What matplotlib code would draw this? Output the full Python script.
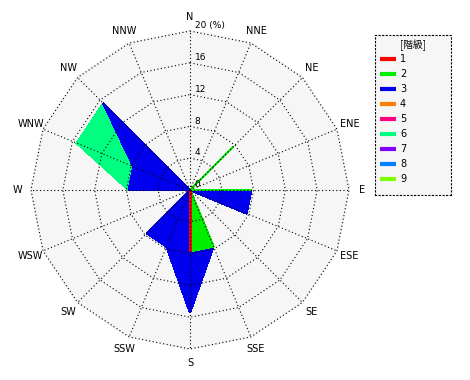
import matplotlib
matplotlib.use("Agg")
import matplotlib.pyplot as plt
import numpy as np

DIRECTIONS = ["N", "NNE", "NE", "ENE", "E", "ESE", "SE", "SSE",
              "S", "SSW", "SW", "WSW", "W", "WNW", "NW", "NNW"]

# frequency (%) per direction for each class
class_1 = [0, 0, 0, 0, 0, 0, 0, 0, 7.7, 0, 0, 0, 0, 0, 0, 0]
class_2 = [0, 0, 7.7, 0, 7.7, 0, 0, 7.7, 0, 0, 0, 0, 0, 0, 0, 0]
class_3 = [0, 0, 0, 0, 0, 7.7, 0, 0, 7.7, 7.7, 7.7, 0, 7.7, 7.7, 15.4, 0]
class_4 = [0] * 16
class_5 = [0] * 16
class_6 = [0, 0, 0, 0, 0, 0, 0, 0, 0, 0, 0, 0, 0, 7.7, 0, 0]
class_7 = [0] * 16
class_8 = [0] * 16
class_9 = [0] * 16

CLASS_LABELS = ["1", "2", "3", "4", "5", "6", "7", "8", "9"]
CLASS_COLORS = ["#ff0000", "#00ee00", "#0000ee", "#ff8000", "#ff0080",
                "#00ff80", "#8000ff", "#0080ff", "#80ff00"]
RING_VALUES = [4, 8, 12, 16, 20]
R_MAX = 20

DOT = (0, (1, 2.2))
BG = "#f6f6f6"


def to_xy(values):
    theta = np.deg2rad(np.arange(16) * 22.5)
    r = np.asarray(values, dtype=float)
    return r * np.sin(theta), r * np.cos(theta)


def main():
    plt.rcParams["font.family"] = ["DejaVu Sans"]
    fig = plt.figure(figsize=(4.7, 3.8), dpi=100)
    ax = fig.add_axes([0, 0, 380 / 470, 1])
    lim = 190 / 159 * R_MAX
    ax.set_xlim(-lim, lim)
    ax.set_ylim(-lim, lim)
    ax.set_aspect("equal")
    ax.axis("off")

    # background polygon
    bx, by = to_xy([R_MAX] * 16)
    ax.fill(bx, by, color=BG, zorder=0, antialiased=False)

    # cumulative polygons, largest first
    classes = [class_1, class_2, class_3, class_4, class_5,
               class_6, class_7, class_8, class_9]
    cum = np.cumsum(np.array(classes, dtype=float), axis=0)
    for k in range(len(classes) - 1, -1, -1):
        x, y = to_xy(cum[k])
        ax.fill(x, y, facecolor=CLASS_COLORS[k], edgecolor=CLASS_COLORS[k],
                linewidth=1.0, antialiased=False, zorder=2)

    # grid rings and rays
    for rv in RING_VALUES:
        x, y = to_xy([rv] * 16)
        ax.plot(np.append(x, x[0]), np.append(y, y[0]), color="black",
                linewidth=0.8, linestyle=DOT, zorder=3)
    ex, ey = to_xy([R_MAX] * 16)
    for i in range(16):
        ax.plot([0, ex[i]], [0, ey[i]], color="black", linewidth=0.8,
                linestyle=DOT, zorder=3)

    # ring labels
    for rv in [0] + RING_VALUES:
        text = "20 (%)" if rv == R_MAX else str(rv)
        ax.text(0.6, rv + 0.1, text, fontsize=6.5, ha="left", va="bottom", zorder=4)

    # direction labels
    lx, ly = to_xy([21.7] * 16)
    for i, name in enumerate(DIRECTIONS):
        ax.text(lx[i], ly[i], name, fontsize=7, ha="center", va="center", zorder=4)

    # legend box
    lax = fig.add_axes([375 / 470, 1 - 195 / 380, 76 / 470, 160 / 380])
    lax.set_xlim(0, 76)
    lax.set_ylim(160, 0)
    lax.set_facecolor(BG)
    lax.set_xticks([])
    lax.set_yticks([])
    for sp in lax.spines.values():
        sp.set_linestyle(DOT)
        sp.set_linewidth(0.8)
    lax.text(38, 10, "[階級]", fontsize=7, ha="center", va="center",
             family=["Noto Sans CJK JP", "DejaVu Sans"])
    for i, (lab, col) in enumerate(zip(CLASS_LABELS, CLASS_COLORS)):
        yy = 24 + i * 15
        lax.plot([5, 21], [yy, yy], color=col, linewidth=3, solid_capstyle="butt")
        lax.text(25, yy, lab, fontsize=7, ha="left", va="center")

    fig.savefig("out.png", dpi=100, facecolor="white")
    plt.close(fig)


if __name__ == "__main__":
    main()
